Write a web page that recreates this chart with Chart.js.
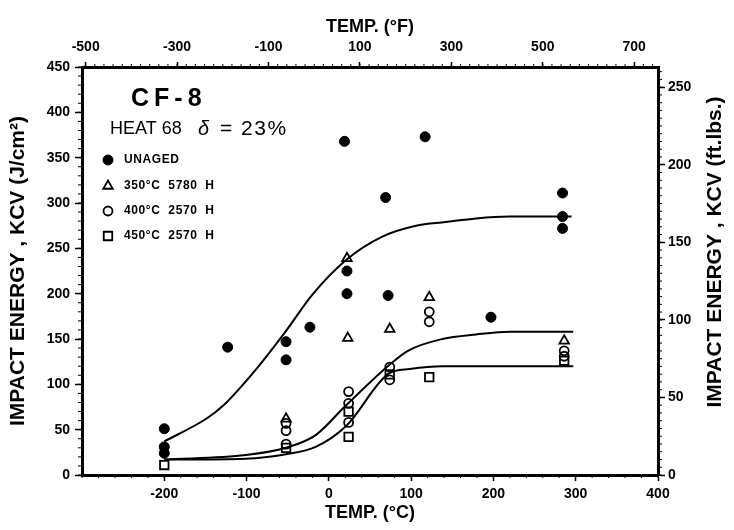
<!DOCTYPE html>
<html lang="en">
<head>
  <meta charset="UTF-8" />
  <title>CF-8 Heat 68 - Impact energy vs temperature</title>
  <style>
    body {
      margin: 0;
      background: #fff;
    }
    #wrap {
      width: 734px;
      height: 530px;
    }
  </style>
</head>
<body>

<div id="wrap"><canvas id="grafico" width="734" height="530"></canvas></div>

<script src="https://cdn.jsdelivr.net/npm/chart.js"></script>

<script>
  // Pontos medidos (temperatura em °C, KCV em J/cm²)
  const unagedTemp = [-200, -200, -200, -123, -52, -52, -23, 19, 22, 22, 69, 72, 117, 197, 284, 284, 284];
  const unagedKcv  = [51, 31, 24, 141, 147, 127, 163, 368, 225, 200, 306, 198, 373, 174, 311, 285, 272];

  const a350Temp = [-52, 22, 23, 74, 122, 286];
  const a350Kcv  = [62, 239, 151, 161, 196, 148];

  const a400Temp = [-52, -52, -52, 24, 24, 24, 74, 74, 122, 122, 286, 286];
  const a400Kcv  = [57, 49, 34, 92, 79, 58, 119, 105, 180, 169, 137, 131];

  const a450Temp = [-200, -52, 24, 24, 74, 122, 286];
  const a450Kcv  = [11, 30, 70, 42, 111, 108, 126];

  // Curvas ajustadas
  const curvaUnagedTemp = [-200, -149, -129, -89, -52, -20, 22, 65, 106, 142, 179, 219, 260, 295];
  const curvaUnagedKcv  = [37, 62, 76, 116, 159, 199, 238, 263, 275, 279, 283, 285, 285, 285];

  const curva400Temp = [-200, -101, -52, -16, 20, 73, 96, 138, 179, 220, 260, 297];
  const curva400Kcv  = [17, 22, 30, 44, 76, 121, 137, 150, 155, 158, 158, 158];

  const curva450Temp = [-200, -101, -52, -16, 21, 73, 98, 138, 180, 220, 297];
  const curva450Kcv  = [17, 18, 23, 31, 54, 112, 117, 120, 120, 120, 120];

  // Eixos
  const tempCTicks = [-200, -100, 0, 100, 200, 300, 400];
  const tempFTicks = [-500, -300, -100, 100, 300, 500, 700];
  const kcvTicks   = [0, 50, 100, 150, 200, 250, 300, 350, 400, 450];
  const ftlbTicks  = [0, 50, 100, 150, 200, 250];

  const fonte = '"Liberation Sans", Arial, Helvetica, sans-serif';
  const tickFont = { family: fonte, size: 14, weight: 'bold' };
  const titleFont = { family: fonte, size: 21, weight: 'bold' };

  const pares = (xs, ys) => xs.map((x, i) => ({ x: x, y: ys[i] }));

  // Traços menores dos eixos
  const tracosMenores = {
    id: 'tracosMenores',
    afterDraw(chart) {
      const { ctx, chartArea: a, scales } = chart;
      ctx.save();
      ctx.strokeStyle = '#000';
      ctx.lineWidth = 1;
      ctx.beginPath();
      for (let v = 0; v <= 450; v += 10) {
        const y = scales.y.getPixelForValue(v);
        ctx.moveTo(a.left, y); ctx.lineTo(a.left - 4, y);
      }
      for (let v = 0; v <= 260; v += 5) {
        const y = scales.yFt.getPixelForValue(v);
        ctx.moveTo(a.right, y); ctx.lineTo(a.right + 4, y);
      }
      for (let v = -300; v <= 400; v += 20) {
        const x = scales.x.getPixelForValue(v);
        ctx.moveTo(x, a.bottom); ctx.lineTo(x, a.bottom + 3);
      }
      for (let v = -500; v <= 740; v += 20) {
        const x = scales.xF.getPixelForValue(v);
        ctx.moveTo(x, a.top); ctx.lineTo(x, a.top - 3);
      }
      ctx.stroke();
      ctx.restore();
    }
  };

  // Título interno, legenda e título do eixo direito (lido de baixo para cima)
  const anotacoes = {
    id: 'anotacoes',
    afterDraw(chart) {
      const ctx = chart.ctx;
      ctx.save();
      ctx.fillStyle = '#000';
      ctx.textBaseline = 'middle';
      ctx.textAlign = 'left';

      ctx.font = 'bold 25px ' + fonte;
      ctx.letterSpacing = '5px';
      ctx.fillText('CF-8', 131, 99);
      ctx.letterSpacing = '0px';

      ctx.font = '18px ' + fonte;
      ctx.fillText('HEAT 68', 110, 129);
      ctx.font = 'italic 20px ' + fonte;
      ctx.fillText('δ', 198, 129);
      ctx.font = '21px ' + fonte;
      ctx.letterSpacing = '1.5px';
      ctx.fillText('= 23%', 220, 129);
      ctx.letterSpacing = '0px';

      const linhas = [160, 186, 211, 236];
      let k = 0;
      chart.data.datasets.forEach(ds => {
        if (!ds.label) return;
        const y = linhas[k++];
        ctx.strokeStyle = ds.borderColor;
        ctx.fillStyle = ds.backgroundColor;
        ctx.lineWidth = ds.borderWidth;
        Chart.helpers.drawPoint(ctx, {
          pointStyle: ds.pointStyle,
          radius: ds.pointRadius,
          rotation: 0,
          borderWidth: ds.borderWidth
        }, 108, y);
        ctx.fillStyle = '#000';
        ctx.font = 'bold 12px ' + fonte;
        ctx.letterSpacing = '0.6px';
        ctx.fillText(ds.label, 124, y);
      });
      ctx.letterSpacing = '0px';

      ctx.translate(715, 252);
      ctx.rotate(-Math.PI / 2);
      ctx.textAlign = 'center';
      ctx.fillStyle = '#000';
      ctx.font = 'bold 21px ' + fonte;
      ctx.fillText('IMPACT ENERGY , KCV (ft.lbs.)', 0, 0);
      ctx.restore();
    }
  };

  const pontos = (label, xs, ys, estilo, raio, preenchido) => ({
    label: label,
    data: pares(xs, ys),
    pointStyle: estilo,
    pointRadius: raio,
    borderColor: '#000',
    backgroundColor: preenchido ? '#000' : 'rgba(0,0,0,0)',
    borderWidth: preenchido ? 1 : 1.8,
    showLine: false
  });

  const curva = (xs, ys) => ({
    type: 'line',
    label: '',
    data: pares(xs, ys),
    borderColor: '#000',
    borderWidth: 2,
    pointRadius: 0,
    fill: false,
    cubicInterpolationMode: 'monotone'
  });

  new Chart(document.getElementById('grafico'), {
    type: 'scatter',
    data: {
      datasets: [
        pontos('UNAGED', unagedTemp, unagedKcv, 'circle', 5, true),
        pontos('350°C  5780  H', a350Temp, a350Kcv, 'triangle', 5.5, false),
        pontos('400°C  2570  H', a400Temp, a400Kcv, 'circle', 4.5, false),
        pontos('450°C  2570  H', a450Temp, a450Kcv, 'rect', 6, false),
        curva(curvaUnagedTemp, curvaUnagedKcv),
        curva(curva400Temp, curva400Kcv),
        curva(curva450Temp, curva450Kcv)
      ]
    },
    options: {
      responsive: false,
      animation: false,
      layout: { padding: 0 },
      plugins: {
        legend: { display: false },
        tooltip: { enabled: false }
      },
      scales: {
        x: {
          type: 'linear', position: 'bottom', min: -300, max: 400,
          afterBuildTicks: s => { s.ticks = tempCTicks.map(v => ({ value: v })); },
          afterFit: s => { s.height = 55; },
          ticks: { font: tickFont, color: '#000', padding: 5, maxRotation: 0 },
          grid: { drawOnChartArea: false, tickLength: 6, tickWidth: 1.5, tickColor: '#000' },
          border: { color: '#000', width: 3 },
          title: { display: true, text: 'TEMP. (°C)', font: { family: fonte, size: 18, weight: 'bold' }, color: '#000', padding: { top: 0, bottom: 6 } }
        },
        xF: {
          type: 'linear', position: 'top', min: -508, max: 752,
          afterBuildTicks: s => { s.ticks = tempFTicks.map(v => ({ value: v })); },
          afterFit: s => { s.height = 67; },
          ticks: { font: tickFont, color: '#000', padding: 6, maxRotation: 0 },
          grid: { drawOnChartArea: false, tickLength: 5, tickWidth: 1.5, tickColor: '#000' },
          border: { color: '#000', width: 3 },
          title: { display: true, text: 'TEMP. (°F)', font: { family: fonte, size: 18, weight: 'bold' }, color: '#000', padding: { top: 16, bottom: 0 } }
        },
        y: {
          type: 'linear', position: 'left', min: 0, max: 450,
          afterBuildTicks: s => { s.ticks = kcvTicks.map(v => ({ value: v })); },
          afterFit: s => { s.width = 82; },
          ticks: { font: tickFont, color: '#000', padding: 5 },
          grid: { drawOnChartArea: false, tickLength: 7, tickWidth: 1.5, tickColor: '#000' },
          border: { color: '#000', width: 3 },
          title: { display: true, text: 'IMPACT ENERGY , KCV (J/cm²)', font: titleFont, color: '#000', padding: { top: 6, bottom: 0 } }
        },
        yFt: {
          type: 'linear', position: 'right', min: 0, max: 263,
          afterBuildTicks: s => { s.ticks = ftlbTicks.map(v => ({ value: v })); },
          afterFit: s => { s.width = 76; },
          ticks: { font: tickFont, color: '#000', padding: 3 },
          grid: { drawOnChartArea: false, tickLength: 7, tickWidth: 1.5, tickColor: '#000' },
          border: { color: '#000', width: 3 },
          title: { display: false }
        }
      }
    },
    plugins: [tracosMenores, anotacoes]
  });
</script>

</body>
</html>
